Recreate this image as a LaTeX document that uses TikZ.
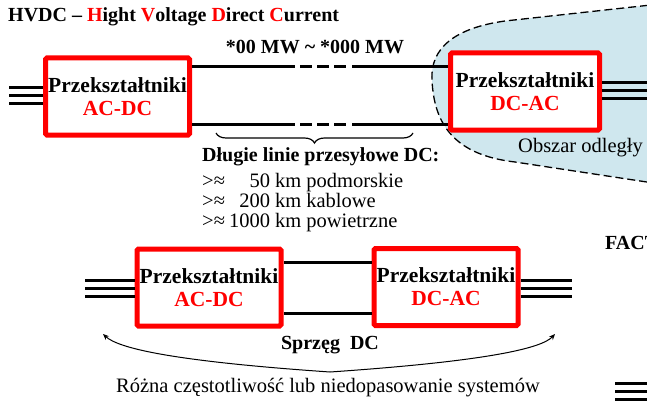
\documentclass[tikz,border=0pt]{standalone}
\usepackage{fontspec}
\setmainfont{Liberation Serif}
\usepackage{xcolor}
\usepackage{tikz}
\usetikzlibrary{arrows.meta,calc,decorations.pathreplacing}
\definecolor{convred}{HTML}{FF0000}
\definecolor{remoteblue}{HTML}{CFE7EE}

\begin{document}
\begin{tikzpicture}[x=1pt,y=-1pt,
  conv/.style={draw=convred,line width=5pt,fill=white,rounded corners=1.5pt,
    minimum width=144pt,minimum height=77pt,align=center,inner sep=0pt,
    font=\fontsize{21.5}{23}\selectfont\bfseries},
  dcline/.style={line width=3pt},
  acline/.style={line width=3pt},
  txt/.style={inner sep=0pt,font=\fontsize{20.5}{20}\selectfont},
  bold/.style={txt,font=\fontsize{20}{20}\selectfont\bfseries},
  sprzeg/.style={line width=1pt,-{Stealth[length=6pt,width=5pt]}}]
  \clip (0,0) rectangle (647,401);
  % obszar odlegly
  \filldraw[fill=remoteblue,draw=black,line width=1.3pt,dash pattern=on 8pt off 4pt]
    (660,4) -- (505,21) .. controls (455,28) and (430,48) .. (432,80)
    .. controls (434,125) and (455,155) .. (515,162) -- (660,184);

  % HVDC
  \node[conv] (acdcA) at (117.5,96.5) {Przekształtniki\\{\color{convred}AC-DC}};
  \node[conv,minimum width=149pt] (dcacA) at (525,91.5) {Przekształtniki\\{\color{convred}DC-AC}};
  \coordinate (gapL) at (295,0);
  \coordinate (gapR) at (352,0);
  \foreach \ly in {67,124} {
    \draw[dcline] (acdcA.east |- 0,\ly) -- (gapL |- 0,\ly);
    \draw[dcline,dash pattern=on 12pt off 5pt] ($(gapL |- 0,\ly)+(5,0)$) -- ($(gapR |- 0,\ly)+(-5,0)$);
    \draw[dcline] (gapR |- 0,\ly) -- (dcacA.west |- 0,\ly);
  }
  \coordinate (gridA) at (9,96);
  \coordinate (gridC) at (660,91);
  \foreach \dy in {-8,0,8} {
    \draw[acline] ($(gridA)+(0,\dy)$) -- ($(gridA -| acdcA.west)+(0,\dy)$);
    \draw[acline] ($(gridC -| dcacA.east)+(0,\dy)$) -- ($(gridC)+(0,\dy)$);
  }
  \draw[decorate,decoration={brace,mirror,amplitude=10pt},line width=1.2pt] (216,133) -- (413,133);

  \node[bold,anchor=west] (title) at (8,17) {HVDC – {\color{convred}H}ight {\color{convred}V}oltage {\color{convred}D}irect {\color{convred}C}urrent};
  \node[bold] (power) at (315,47) {*00 MW \textasciitilde{} *000 MW};
  \node[txt,anchor=west] (remote) at (518,148) {Obszar odległy};
  \node[bold,anchor=west] (longlines) at (202,157) {Długie linie przesyłowe DC:};
  \node[txt,anchor=base west] (ranges) at (202,187) {%
    \begin{tabular}[t]{@{}l@{\hspace{4pt}}r@{\hspace{5pt}}l@{}}
      >≈ & 50 & km podmorskie\\
      >≈ & 200 & km kablowe\\
      >≈ & 1000 & km powietrzne
    \end{tabular}};

  % sprzeg DC
  \node[conv] (acdcB) at (209,287.5) {Przekształtniki\\{\color{convred}AC-DC}};
  \node[conv] (dcacB) at (446,287) {Przekształtniki\\{\color{convred}DC-AC}};
  \foreach \ly in {262,313}
    \draw[dcline] (acdcB.east |- 0,\ly) -- (dcacB.west |- 0,\ly);
  \coordinate (gridB) at (85,288);
  \coordinate (gridD) at (572,288);
  \foreach \dy in {-8,0,8} {
    \draw[acline] ($(gridB)+(0,\dy)$) -- ($(gridB -| acdcB.west)+(0,\dy)$);
    \draw[acline] ($(gridD -| dcacB.east)+(0,\dy)$) -- ($(gridD)+(0,\dy)$);
  }
  \coordinate (split) at (330,372);
  \coordinate (tipL) at (103,334);
  \coordinate (tipR) at (555,334);
  \draw[sprzeg] (split) .. controls (170,361) and (118,348) .. (tipL);
  \draw[sprzeg] (split) .. controls (490,361) and (542,348) .. (tipR);
  \node[bold] (sprzegDC) at (330,345) {Sprzęg\ \ DC};
  \node[txt] (mismatch) at (328,388) {Różna częstotliwość lub niedopasowanie systemów};

  % FACTS
  \node[bold,anchor=west] (facts) at (605,243) {FACT};
  \coordinate (gridE) at (615,391);
  \foreach \dy in {-8,0,8}
    \draw[acline] ($(gridE)+(0,\dy)$) -- ($(gridE)+(45,\dy)$);
\end{tikzpicture}
\end{document}
